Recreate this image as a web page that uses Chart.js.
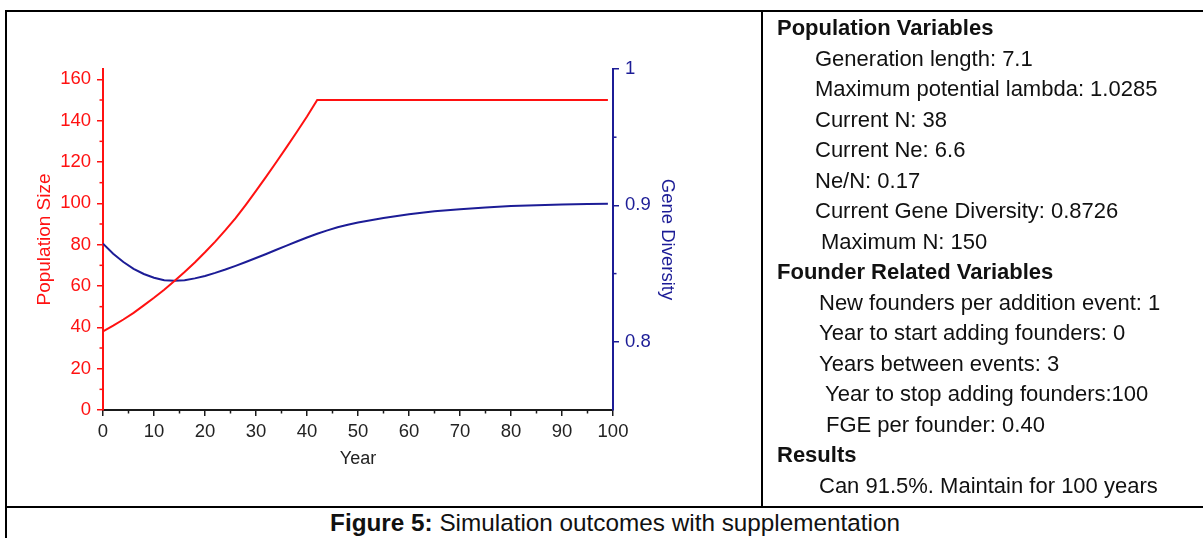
<!DOCTYPE html>
<html>
<head>
<meta charset="utf-8">
<script src="https://cdn.jsdelivr.net/npm/chart.js@4.4.1/dist/chart.umd.min.js"></script>
<style>
  html, body { margin: 0; padding: 0; background: #fff; }
  body { width: 1203px; height: 538px; position: relative; overflow: hidden;
         font-family: "Liberation Sans", Arial, sans-serif; color: #111; }
  .rule { position: absolute; background: #000; }
  #chartBox { position: absolute; left: 0; top: 0; width: 760px; height: 505px; }
  #info { position: absolute; left: 0; top: 13px; font-size: 22px; line-height: 30.5px; }
  #info div { white-space: nowrap; }
  #info .head { font-weight: bold; }
  #caption { position: absolute; left: 15px; width: 1200px; top: 509px; text-align: center;
             font-size: 24.3px; line-height: 28px; white-space: nowrap; }
</style>
</head>
<body>
  <!-- เส้นตาราง -->
  <div class="rule" style="left:5px; top:10px; width:1198px; height:2px;"></div>
  <div class="rule" style="left:5px; top:10px; width:2px; height:528px;"></div>
  <div class="rule" style="left:761px; top:10px; width:2px; height:497px;"></div>
  <div class="rule" style="left:5px; top:506px; width:1198px; height:2px;"></div>

  <div id="chartBox"><canvas id="popChart" width="760" height="505"></canvas></div>

  <div id="info">
    <div class="head" style="padding-left:777px;">Population Variables</div>
    <div style="padding-left:815px;">Generation length: 7.1</div>
    <div style="padding-left:815px;">Maximum potential lambda: 1.0285</div>
    <div style="padding-left:815px;">Current N: 38</div>
    <div style="padding-left:815px;">Current Ne: 6.6</div>
    <div style="padding-left:815px;">Ne/N: 0.17</div>
    <div style="padding-left:815px;">Current Gene Diversity: 0.8726</div>
    <div style="padding-left:821px;">Maximum N: 150</div>
    <div class="head" style="padding-left:777px;">Founder Related Variables</div>
    <div style="padding-left:819px;">New founders per addition event: 1</div>
    <div style="padding-left:819px;">Year to start adding founders: 0</div>
    <div style="padding-left:819px;">Years between events: 3</div>
    <div style="padding-left:825px;">Year to stop adding founders:100</div>
    <div style="padding-left:826px;">FGE per founder: 0.40</div>
    <div class="head" style="padding-left:777px;">Results</div>
    <div style="padding-left:819px;">Can 91.5%. Maintain for 100 years</div>
  </div>

  <div id="caption"><b>Figure 5:</b> Simulation outcomes with supplementation</div>

<script>
// --- 1. ข้อมูลกราฟ ---
const popYears = [0, 2, 4, 6, 8, 10, 12, 14, 16, 18, 20, 22, 24, 26, 28, 30, 32, 34, 36, 38, 40, 42, 99];
const popSize  = [38, 40.8, 43.8, 47, 50.6, 54.3, 58.2, 62.4, 66.8, 71.4, 76.3, 81.5, 87, 92.8, 99.3, 106,
                  112.9, 120, 127.2, 134.5, 142, 150, 150];

const gdYears = [0, 2, 4, 6, 8, 10, 12, 14, 16, 18, 20, 22, 24, 26, 28, 30, 32, 34, 36, 38, 40, 42, 44, 46, 48, 50,
                 55, 60, 65, 70, 75, 80, 85, 90, 95, 99];
const geneDiversity = [0.872, 0.8645, 0.8585, 0.8535, 0.8497, 0.847, 0.8452, 0.8447, 0.8452, 0.8465, 0.8483, 0.8505,
                       0.853, 0.8557, 0.8585, 0.8614, 0.8644, 0.8675, 0.8705, 0.8735, 0.8765, 0.8792, 0.8817, 0.884,
                       0.8858, 0.8874, 0.8908, 0.8935, 0.8957, 0.8972, 0.8985, 0.8995, 0.9002, 0.9007, 0.9011, 0.9013];

const xTicks   = [0, 10, 20, 30, 40, 50, 60, 70, 80, 90, 100];
const xMinor   = [5, 15, 25, 35, 45, 55, 65, 75, 85, 95];
const popTicks = [0, 20, 40, 60, 80, 100, 120, 140, 160];
const popMinor = [10, 30, 50, 70, 90, 110, 130, 150];
const gdTicks  = [0.8, 0.9, 1];
const gdMinor  = [0.85, 0.95];

const RED = '#ff1111';
const BLUE = '#1c1c96';
const INK = '#1a1a1a';

Chart.defaults.font.family = '"Liberation Sans", Arial, sans-serif';

// --- 2. ขีดย่อย (minor ticks) ---
const minorTicks = {
    id: 'minorTicks',
    afterDraw(chart) {
        const c = chart.ctx;
        const { x, yPop, yGd } = chart.scales;
        c.save();
        c.lineWidth = 1.5;
        c.strokeStyle = INK;
        xMinor.forEach(v => {
            const px = x.getPixelForValue(v);
            c.beginPath(); c.moveTo(px, x.top); c.lineTo(px, x.top + 3.5); c.stroke();
        });
        c.strokeStyle = RED;
        popMinor.forEach(v => {
            const py = yPop.getPixelForValue(v);
            c.beginPath(); c.moveTo(yPop.right, py); c.lineTo(yPop.right - 3.5, py); c.stroke();
        });
        c.strokeStyle = BLUE;
        gdMinor.forEach(v => {
            const py = yGd.getPixelForValue(v);
            c.beginPath(); c.moveTo(yGd.left, py); c.lineTo(yGd.left + 3.5, py); c.stroke();
        });
        c.restore();
    }
};

// --- 3. กราฟ ---
const ctx = document.getElementById('popChart').getContext('2d');
new Chart(ctx, {
    type: 'line',
    data: {
        datasets: [
            {
                label: 'Population Size',
                data: popYears.map((yr, i) => ({ x: yr, y: popSize[i] })),
                yAxisID: 'yPop',
                borderColor: RED,
                borderWidth: 2,
                pointRadius: 0,
                tension: 0
            },
            {
                label: 'Gene Diversity',
                data: gdYears.map((yr, i) => ({ x: yr, y: geneDiversity[i] })),
                yAxisID: 'yGd',
                borderColor: BLUE,
                borderWidth: 2,
                pointRadius: 0,
                tension: 0
            }
        ]
    },
    options: {
        responsive: false,
        animation: false,
        layout: { padding: { left: 33, right: 82, top: 69, bottom: 35 } },
        plugins: { legend: { display: false }, tooltip: { enabled: false } },
        scales: {
            x: {
                type: 'linear',
                min: 0,
                max: 100,
                afterBuildTicks: s => { s.ticks = xTicks.map(v => ({ value: v })); },
                afterFit: s => { s.height = 60; },
                border: { color: INK, width: 2 },
                grid: { drawOnChartArea: false, tickLength: 6, color: INK, lineWidth: 1.5 },
                ticks: { color: '#222', font: { size: 18.5 }, padding: 5, maxRotation: 0 },
                title: { display: true, text: 'Year', color: '#222', font: { size: 18 }, padding: 0 }
            },
            yPop: {
                type: 'linear',
                position: 'left',
                min: 0,
                max: 165,
                afterBuildTicks: s => { s.ticks = popTicks.map(v => ({ value: v })); },
                afterFit: s => { s.width = 70; },
                border: { color: RED, width: 2 },
                grid: { drawOnChartArea: false, tickLength: 6, color: RED, lineWidth: 1.5 },
                ticks: { color: RED, font: { size: 18.5 }, padding: 6 },
                title: { display: true, text: 'Population Size', color: RED, font: { size: 19 }, padding: 0 }
            },
            yGd: {
                type: 'linear',
                position: 'right',
                min: 0.75,
                max: 1,
                afterBuildTicks: s => { s.ticks = gdTicks.map(v => ({ value: v })); },
                afterFit: s => { s.width = 65; },
                border: { color: BLUE, width: 2 },
                grid: { drawOnChartArea: false, tickLength: 6, color: BLUE, lineWidth: 1.5 },
                ticks: { color: BLUE, font: { size: 18.5 }, padding: 6, callback: v => (v === 1 ? '1' : v.toFixed(1)) },
                title: { display: true, text: 'Gene Diversity', color: BLUE, font: { size: 18.5 }, padding: 0 }
            }
        }
    },
    plugins: [minorTicks]
});
</script>
</body>
</html>
